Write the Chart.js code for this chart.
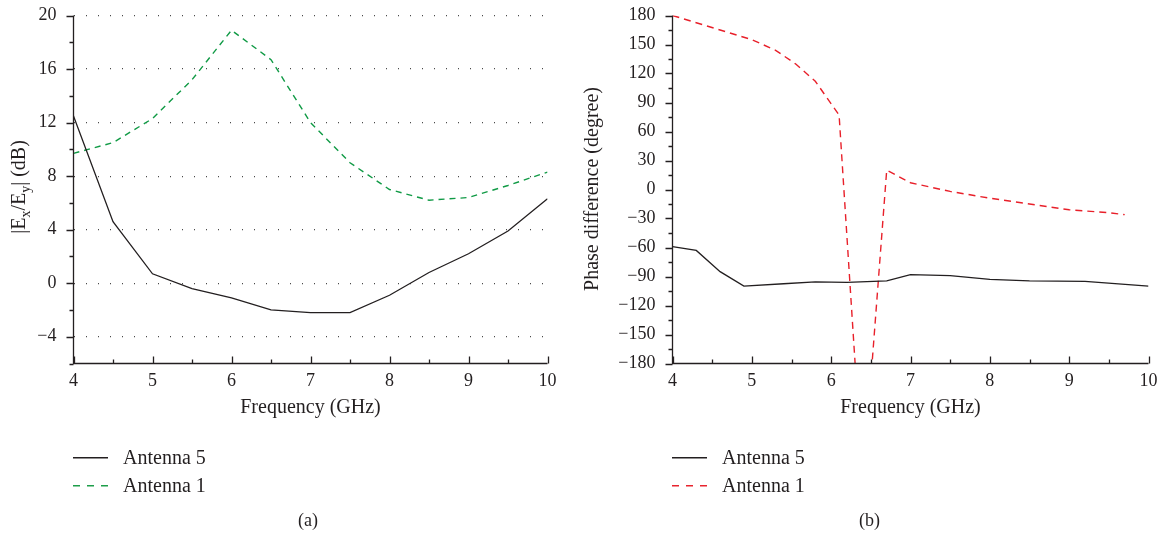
<!DOCTYPE html>
<html>
<head>
<meta charset="utf-8">
<script src="https://cdn.jsdelivr.net/npm/chart.js@4/dist/chart.umd.min.js"></script>
<style>
  body { margin: 0; background: #fff; }
  #wrap { position: relative; width: 1159px; height: 544px; overflow: hidden; font-family: "Liberation Serif", serif; color: #231f20; }
  canvas { position: absolute; top: 0; }
  .leg { position: absolute; font-size: 20px; line-height: 20px; white-space: nowrap; }
  .cap { position: absolute; font-size: 18px; line-height: 18px; }
  svg { position: absolute; left: 0; top: 0; }
</style>
</head>
<body>
<div id="wrap">
  <canvas id="chartA" width="580" height="430" style="left:0"></canvas>
  <canvas id="chartB" width="579" height="430" style="left:580px"></canvas>
  <svg width="1159" height="544">
    <line x1="73" y1="457.7" x2="108" y2="457.7" stroke="#231f20" stroke-width="1.4"/>
    <line x1="73" y1="485.7" x2="108" y2="485.7" stroke="#1e9e4a" stroke-width="1.4" stroke-dasharray="7,7"/>
    <line x1="672" y1="457.7" x2="707" y2="457.7" stroke="#231f20" stroke-width="1.4"/>
    <line x1="672" y1="485.7" x2="707" y2="485.7" stroke="#e8242e" stroke-width="1.4" stroke-dasharray="7,7"/>
  </svg>
  <div class="leg" style="left:123px; top:446.5px">Antenna 5</div>
  <div class="leg" style="left:123px; top:474.5px">Antenna 1</div>
  <div class="leg" style="left:722px; top:446.5px">Antenna 5</div>
  <div class="leg" style="left:722px; top:474.5px">Antenna 1</div>
  <div class="cap" style="left:298px; top:511px">(a)</div>
  <div class="cap" style="left:859px; top:511px">(b)</div>
</div>
<script>
// (a) axial ratio |Ex/Ey| in dB
let freqA = [4, 4.5, 5, 5.5, 6, 6.5, 7, 7.5, 8, 8.5, 9, 9.5, 10];
let ratioAnt5 = [12.5, 4.6, 0.7, -0.4, -1.1, -2.0, -2.2, -2.2, -0.9, 0.8, 2.2, 3.9, 6.3];
let ratioAnt1 = [9.7, 10.5, 12.3, 15.2, 18.9, 16.7, 12.0, 9.0, 7.0, 6.2, 6.4, 7.3, 8.3];

// (b) phase difference in degree
let freqB5 = [4, 4.3, 4.6, 4.9, 5.4, 5.8, 6.2, 6.7, 7.0, 7.5, 8.0, 8.5, 9.2, 10];
let phaseAnt5 = [-59, -63, -85, -100, -97.5, -95.5, -96, -94.5, -88, -89, -93, -94.5, -95, -100];
let freqB1 = [4, 4.6, 5.0, 5.3, 5.55, 5.8, 6.1, 6.4, 6.7, 7.0, 7.5, 8.0, 8.5, 9.0, 9.5, 9.7];
let phaseAnt1 = [180, 165, 155, 144, 130, 112, 77, -305, 20, 7, -2, -9, -15, -21, -24, -26];

const ink = '#231f20';
const serif = 'Liberation Serif';

function pairs(xs, ys) {
  return xs.map((x, i) => ({x: x, y: ys[i]}));
}

function minus(v) {
  return String(v).replace('-', '\u2212');
}

// axis lines and tick marks (y ticks outward, x ticks inward)
const axisFrame = {
  id: 'axisFrame',
  afterDraw(chart, args, opts) {
    const {ctx, chartArea: a, scales: {x, y}} = chart;
    ctx.save();
    ctx.strokeStyle = ink;
    ctx.lineWidth = 1.3;
    ctx.beginPath();
    ctx.moveTo(a.left, a.top);
    ctx.lineTo(a.left, a.bottom);
    ctx.lineTo(a.right, a.bottom);
    for (let v = x.min; v <= x.max + 1e-9; v += opts.xMinor) {
      const px = Math.round(x.getPixelForValue(v)) + 0.5;
      const major = Math.abs(v - Math.round(v / opts.xMajor) * opts.xMajor) < 1e-6;
      ctx.moveTo(px, a.bottom);
      ctx.lineTo(px, a.bottom - (major ? 7 : 4));
    }
    for (let v = y.min; v <= y.max + 1e-9; v += opts.yMinor) {
      const py = Math.round(y.getPixelForValue(v)) + 0.5;
      const major = Math.abs(v - Math.round(v / opts.yMajor) * opts.yMajor) < 1e-6;
      ctx.moveTo(a.left, py);
      ctx.lineTo(a.left - (major ? 7 : 4), py);
    }
    ctx.stroke();
    ctx.restore();
  }
};

// rotated y title with optional subscripts
const yTitle = {
  id: 'yTitle',
  afterDraw(chart, args, opts) {
    const ctx = chart.ctx;
    ctx.save();
    ctx.translate(opts.x, opts.y);
    ctx.rotate(-Math.PI / 2);
    ctx.fillStyle = ink;
    ctx.textBaseline = 'alphabetic';
    const fonts = opts.parts.map(p => (p[1] ? '14px ' : '20px ') + '"' + serif + '"');
    let w = 0;
    opts.parts.forEach((p, i) => { ctx.font = fonts[i]; w += ctx.measureText(p[0]).width; });
    let cx = -w / 2;
    opts.parts.forEach((p, i) => {
      ctx.font = fonts[i];
      ctx.fillText(p[0], cx, p[1] ? 12 : 7);
      cx += ctx.measureText(p[0]).width;
    });
    ctx.restore();
  }
};

function makeOptions(o) {
  return {
    responsive: false,
    animation: false,
    devicePixelRatio: 1,
    layout: {padding: {left: 0, top: 15.5, right: o.padRight, bottom: 0}},
    plugins: {
      legend: {display: false},
      tooltip: {enabled: false},
      axisFrame: o.frame,
      yTitle: o.title
    },
    elements: {point: {radius: 0}, line: {tension: 0}},
    scales: {
      x: {
        type: 'linear',
        min: 4,
        max: 10,
        ticks: {stepSize: 1, padding: 1, color: ink, font: {family: serif, size: 18}, maxRotation: 0},
        grid: {display: true, drawOnChartArea: false, drawTicks: true, tickLength: 6, tickColor: 'transparent', color: 'transparent'},
        border: {display: false},
        title: {display: true, text: 'Frequency (GHz)', color: ink, font: {family: serif, size: 20}, padding: {top: 0, bottom: 10}},
        afterFit: s => { s.height = 430 - 363.5; }
      },
      y: {
        min: o.yMin,
        max: o.yMax,
        ticks: {
          stepSize: o.yStep,
          includeBounds: false,
          autoSkip: false,
          padding: 3,
          color: ink,
          font: {family: serif, size: 18},
          callback: v => minus(v)
        },
        grid: {
          display: true,
          drawOnChartArea: o.yGrid,
          drawTicks: true,
          tickLength: 14,
          tickColor: 'transparent',
          color: '#4a4a4a',
          lineWidth: 1.2
        },
        border: {display: false, dash: [1, 11]},
        afterFit: s => { s.width = o.axisLeft; }
      }
    }
  };
}

let chartA = new Chart(document.getElementById('chartA'), {
  type: 'line',
  data: {
    datasets: [
      {label: 'Antenna 5', data: pairs(freqA, ratioAnt5), borderColor: ink, borderWidth: 1.3},
      {label: 'Antenna 1', data: pairs(freqA, ratioAnt1), borderColor: '#109a45', borderWidth: 1.4, borderDash: [6, 5]}
    ]
  },
  options: makeOptions({
    padRight: 32.5, axisLeft: 73.5, yMin: -6, yMax: 20, yStep: 4, yGrid: true,
    frame: {xMinor: 0.5, xMajor: 1, yMinor: 2, yMajor: 4},
    title: {x: 18, y: 187, parts: [['|E', false], ['x', true], ['/E', false], ['y', true], ['| (dB)', false]]}
  }),
  plugins: [axisFrame, yTitle]
});

let chartB = new Chart(document.getElementById('chartB'), {
  type: 'line',
  data: {
    datasets: [
      {label: 'Antenna 5', data: pairs(freqB5, phaseAnt5), borderColor: ink, borderWidth: 1.3},
      {label: 'Antenna 1', data: pairs(freqB1, phaseAnt1), borderColor: '#e8202a', borderWidth: 1.4, borderDash: [7, 5]}
    ]
  },
  options: makeOptions({
    padRight: 10.5, axisLeft: 92.5, yMin: -180, yMax: 180, yStep: 30, yGrid: false,
    frame: {xMinor: 0.5, xMajor: 1, yMinor: 15, yMajor: 30},
    title: {x: 11, y: 189, parts: [['Phase difference (degree)', false]]}
  }),
  plugins: [axisFrame, yTitle]
});
</script>
</body>
</html>
